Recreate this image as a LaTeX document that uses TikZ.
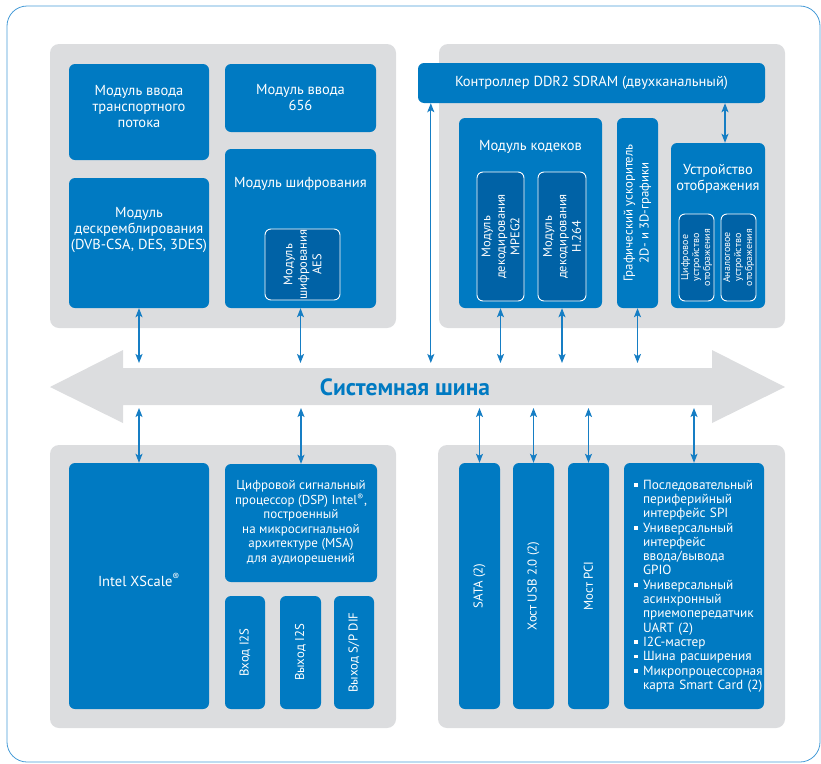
\documentclass[tikz,border=0pt]{standalone}
\usepackage{fontspec}
\setmainfont{PT Sans}
\usetikzlibrary{arrows.meta}
\definecolor{intelblue}{RGB}{0,122,194}
\definecolor{deepblue}{RGB}{0,98,166}
\definecolor{panelgray}{RGB}{220,221,223}
\definecolor{linkblue}{RGB}{22,126,196}
\definecolor{frameblue}{RGB}{70,155,215}
\newcommand{\boxfont}{\fontsize{14.5}{16}\selectfont}
\newcommand{\vfont}{\fontsize{12.8}{16}\selectfont}
\newcommand{\dspfont}{\fontsize{13}{14.5}\selectfont}
\newcommand{\subfont}{\fontsize{12.5}{14.5}\selectfont}
\newcommand{\minifont}{\fontsize{10}{11}\selectfont}
\newcommand{\listfont}{\fontsize{13.3}{14.3}\selectfont}
\newcommand{\busfont}{\fontsize{23.5}{26}\selectfont\bfseries}
\newcommand{\sq}{\makebox[11pt][l]{\hspace{2pt}\raisebox{2.5pt}{\rule{3.5pt}{3.5pt}}}}
\newcommand{\ind}{\hspace*{11pt}}
\tikzset{
  panel/.style={fill=panelgray, rounded corners=9pt, inner sep=0pt},
  blk/.style={fill=intelblue, rounded corners=6pt, inner sep=0pt, text=white, align=center, font=\boxfont},
  sub/.style={fill=deepblue, draw=white, line width=0.9pt},
  vtxt/.style={rotate=90, anchor=center, align=center, text=white, inner sep=0pt},
  ttl/.style={anchor=center, align=center, text=white, font=\boxfont, inner sep=0pt},
  link/.style={{Stealth[length=9pt,width=7pt,inset=2pt]}-{Stealth[length=9pt,width=7pt,inset=2pt]}, draw=linkblue, line width=1.2pt}
}
\newcommand{\panel}[4]{\node[panel, minimum width=#3pt, minimum height=#4pt] at (#1) (#2) {}}
\newcommand{\blk}[6][]{\node[blk, minimum width=#4pt, minimum height=#5pt, #1] at (#2) (#3) {#6}}

\begin{document}
\begin{tikzpicture}[x=1pt, y=-1pt]
	\useasboundingbox (0,0) rectangle (821,763);
	\draw[frameblue, line width=0.8pt, rounded corners=20pt] (7,6) rectangle (820,762);

	% grey groups
	\panel{223,186}{pTL}{346}{284};
	\panel{612,186}{pTR}{346}{284};
	\panel{223,586.5}{pBL}{346}{283};
	\panel{611.5,586.5}{pBR}{347}{283};

	% bus
	\fill[panelgray] (50,387) -- (123,350) -- (123,368) -- (712,368) -- (712,350) -- (785,387)
		-- (712,423) -- (712,405) -- (123,405) -- (123,423) -- cycle;
	\node[font=\busfont, text=intelblue] (bus) at (405,387) {Системная шина};
	\coordinate (bustop) at (0,363);
	\coordinate (busbot) at (0,408);

	% top left
	\blk[label={[ttl,yshift=5pt]center:{Модуль ввода\\транспортного\\потока}}]{139,112}{tsin}{140}{96}{};
	\blk{300.5,98}{in656}{151}{68}{Модуль ввода\\656};
	\blk[label={[ttl,yshift=13pt]center:{Модуль\\дескремблирования\\(DVB-CSA, DES, 3DES)}}]{139,243}{dscr}{140}{130}{};
	\blk[label={[ttl,yshift=-35pt]north:{Модуль шифрования}}]{300.5,228.5}{enc}{151}{159}{};
	\blk[sub,label={[vtxt,font=\subfont]center:{Модуль\\шифрования\\AES}}]{302.5,264.5}{aes}{75}{71}{};

	% top right
	\blk{591.5,83}{ddr}{347}{40}{Контроллер DDR2 SDRAM (двухканальный)};
	\blk[label={[ttl,yshift=-29pt]north:{Модуль кодеков}}]{530.5,213}{codec}{143}{190}{};
	\blk[sub,label={[vtxt,font=\subfont]center:{Модуль\\декодирования\\MPEG2}}]{500.5,236.5}{mpeg}{47}{129}{};
	\blk[sub,label={[vtxt,font=\subfont]center:{Модуль\\декодирования\\H.264}}]{562,236.5}{h264}{48}{129}{};
	\blk[label={[vtxt,font=\vfont]center:{Графический ускоритель\\2D- и 3D-графики}}]{637.5,213}{gfx}{41}{190}{};
	\blk[label={[ttl,yshift=-36.5pt]north:{Устройство\\отображения}}]{718,225.5}{disp}{94}{165}{};
	\blk[sub,label={[vtxt,font=\minifont]center:{Цифровое\\устройство\\отображения}}]{696.5,257.5}{ddisp}{35}{87}{};
	\blk[sub,label={[vtxt,font=\minifont]center:{Аналоговое\\устройство\\отображения}}]{738.5,257.5}{adisp}{35}{87}{};

	% bottom left
	\blk[label={[ttl,yshift=6pt]center:{Intel XScale\textsuperscript{®}}}]{139,586}{xscale}{140}{246}{};
	\blk[font=\dspfont]{301,523}{dsp}{152}{118}{Цифровой сигнальный\\процессор (DSP) Intel\textsuperscript{®},\\построенный\\на микросигнальной\\архитектуре (MSA)\\для аудиорешений};
	\blk[label={[vtxt,font=\vfont]center:{Вход I2S}}]{245,652.5}{i2sin}{40}{113}{};
	\blk[label={[vtxt,font=\vfont]center:{Выход I2S}}]{300.5,652.5}{i2sout}{41}{113}{};
	\blk[label={[vtxt,font=\vfont]center:{Выход S/P DIF}}]{354,652.5}{spdif}{40}{113}{};

	% bottom right
	\blk[label={[vtxt,font=\vfont]center:{SATA (2)}}]{479.5,586}{sata}{41}{246}{};
	\blk[label={[vtxt,font=\vfont]center:{Хост USB 2.0 (2)}}]{533.5,586}{usb}{41}{246}{};
	\blk[label={[vtxt,font=\vfont]center:{Мост PCI}}]{588.5,586}{pci}{41}{246}{};
	\blk[align=left, text width=124pt, font=\listfont]{694,586}{periph}{140}{246}{\sq Последовательный\\ \ind периферийный\\ \ind интерфейс SPI\\
		\sq Универсальный\\ \ind интерфейс\\ \ind ввода/вывода\\ \ind GPIO\\
		\sq Универсальный\\ \ind асинхронный\\ \ind приемопередатчик\\ \ind UART (2)\\
		\sq I2C-мастер\\ \sq Шина расширения\\
		\sq Микропроцессорная\\ \ind \mbox{карта Smart Card (2)}};

	% links to the bus
	\coordinate (ddrport) at ([xshift=13pt]ddr.south west);
	\coordinate (dispport) at ([xshift=7pt]disp.north);
	\draw[link] (dscr.south) -- (dscr.south |- bustop);
	\draw[link] (enc.south) -- (enc.south |- bustop);
	\draw[link] (ddrport) -- (ddrport |- bustop);
	\draw[link] (mpeg.south |- codec.south) -- (mpeg.south |- bustop);
	\draw[link] (h264.south |- codec.south) -- (h264.south |- bustop);
	\draw[link] (gfx.south) -- (gfx.south |- bustop);
	\draw[link] (dispport |- ddr.south) -- (dispport);
	\draw[link] (xscale.north |- busbot) -- (xscale.north);
	\draw[link] (dsp.north |- busbot) -- (dsp.north);
	\draw[link] (sata.north |- busbot) -- (sata.north);
	\draw[link] (usb.north |- busbot) -- (usb.north);
	\draw[link] (pci.north |- busbot) -- (pci.north);
	\draw[link] (periph.north |- busbot) -- (periph.north);
\end{tikzpicture}
\end{document}
